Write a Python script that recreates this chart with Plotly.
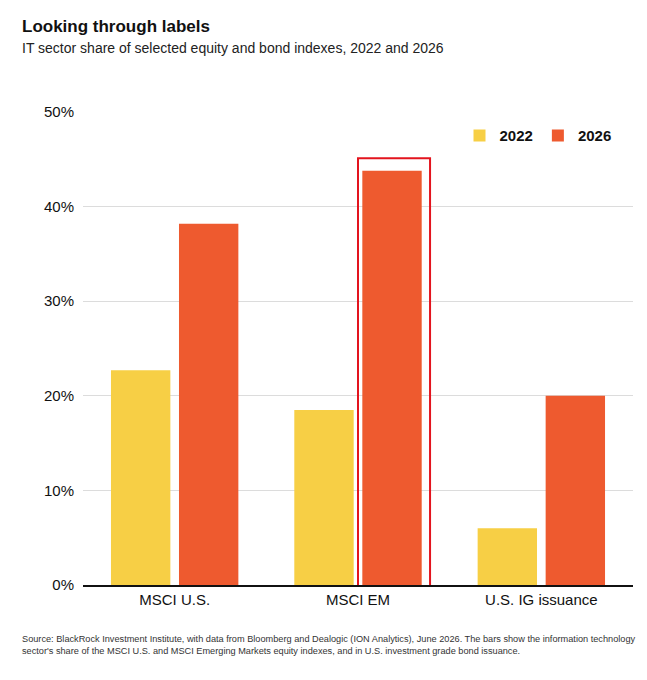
import plotly.graph_objects as go

categories = ["MSCI U.S.", "MSCI EM", "U.S. IG issuance"]
vals_2022 = [22.7, 18.5, 6.0]
vals_2026 = [38.2, 43.8, 20.0]
y_ticks = [0, 10, 20, 30, 40, 50]
y_tick_labels = ["0%", "10%", "20%", "30%", "40%", "50%"]

fig = go.Figure()
fig.add_bar(x=categories, y=vals_2022, name="2022", marker_color="#F7CF45", marker_line_width=0)
fig.add_bar(x=categories, y=vals_2026, name="2026", marker_color="#EE5A2F", marker_line_width=0)

fig.add_shape(type="rect", xref="x", yref="y", x0=1.0, x1=1.393, y0=-0.3, y1=45.1,
              line=dict(color="#E3141E", width=2), fillcolor="rgba(0,0,0,0)")

fig.update_layout(
    width=647, height=680,
    margin=dict(l=75, r=22, t=104, b=103),
    paper_bgcolor="white", plot_bgcolor="white",
    barmode="group", bargap=0.258, bargroupgap=0.127,
    font=dict(family="Liberation Sans, Arial", color="#111"),
    legend=dict(orientation="h", x=0.97, xanchor="right", y=0.95, yanchor="middle",
                font=dict(size=15, color="#111", weight="bold"), bgcolor="rgba(0,0,0,0)",
                itemwidth=30),
    xaxis=dict(range=[-0.5, 2.5], tickfont=dict(size=15), showline=True,
               linecolor="#111", linewidth=1.5, ticks="", showgrid=False),
    yaxis=dict(range=[0, 50], tickvals=y_ticks, ticktext=y_tick_labels,
               tickfont=dict(size=15), gridcolor="#dcdcdc", zeroline=False, ticks="",
               ticklabelstandoff=8),
)
fig.add_annotation(text="<b>Looking through labels</b>", xref="paper", yref="paper",
                   x=0, xanchor="left", y=1, yanchor="top", showarrow=False,
                   xshift=-63, yshift=97, font=dict(size=17, color="#111"))
fig.add_annotation(text="IT sector share of selected equity and bond indexes, 2022 and 2026",
                   xref="paper", yref="paper", x=0, xanchor="left", y=1, yanchor="top",
                   showarrow=False, xshift=-63, yshift=74, font=dict(size=14, color="#222"))
fig.add_annotation(text="Source: BlackRock Investment Institute, with data from Bloomberg and Dealogic (ION Analytics), June 2026. The bars show the information technology<br>sector's share of the MSCI U.S. and MSCI Emerging Markets equity indexes, and in U.S. investment grade bond issuance.",
                   xref="paper", yref="paper", x=0, xanchor="left", align="left", y=0, yanchor="top",
                   showarrow=False, xshift=-63, yshift=-47, font=dict(size=9.2, color="#333"))
fig.write_html("out.html")
